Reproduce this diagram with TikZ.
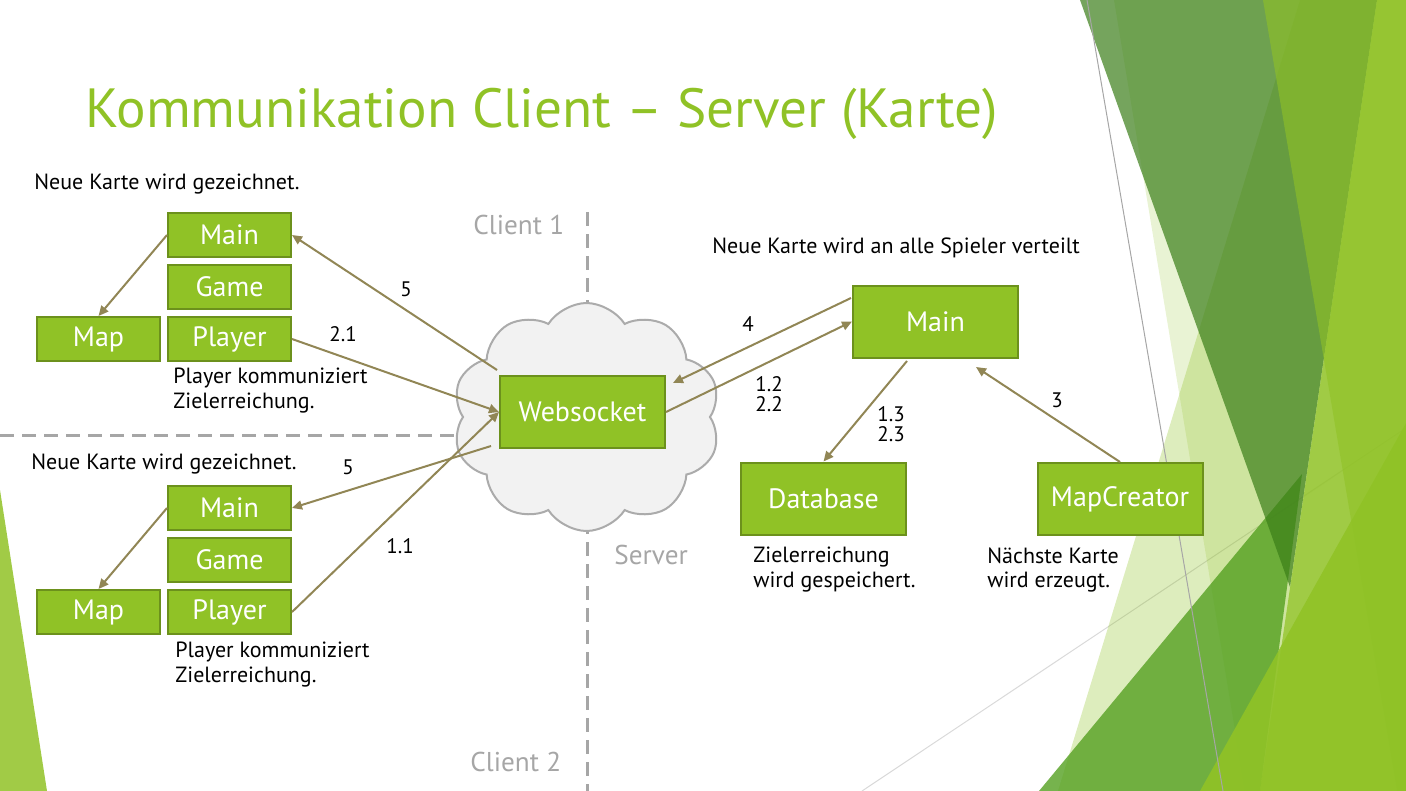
\documentclass[tikz,border=0pt]{standalone}
\usepackage{fontspec}
\setmainfont{PT Sans}
\usetikzlibrary{shapes.symbols,arrows.meta}
\definecolor{accent}{HTML}{90C226}
\definecolor{boxborder}{HTML}{6C911C}
\definecolor{arrowc}{HTML}{918655}
\definecolor{darkleaf}{HTML}{3B7E18}
\definecolor{midleaf}{HTML}{54A021}
\definecolor{sepgray}{HTML}{A6A6A6}
\definecolor{cloudfill}{HTML}{F2F2F2}
\definecolor{cloudline}{HTML}{ABABAB}
\begin{document}
\begin{tikzpicture}[x=0.5pt,y=-0.5pt,
  cbox/.style={draw=boxborder,fill=accent,line width=1pt,text=white,
    font=\fontsize{14}{16}\selectfont,minimum width=61.5pt,minimum height=22pt,inner sep=0pt},
  sbox/.style={cbox,minimum width=82.5pt,minimum height=36pt},
  note/.style={font=\fontsize{11}{12.2}\selectfont,inner sep=0pt,align=left},
  num/.style={font=\fontsize{10.5}{10}\selectfont,inner sep=0pt,align=left},
  zone/.style={font=\fontsize{13.6}{15}\selectfont,text=sepgray,inner sep=0pt},
  sep/.style={draw=sepgray,line width=1.5pt,dash pattern=on 7pt off 4pt},
  flow/.style={draw=arrowc,line width=1pt,-{Triangle[length=5pt,width=4.5pt]}},
  facetline/.style={line width=0.5pt}]
\useasboundingbox (0,0) rectangle (1406,791);

% ---- decorative facets ----
\draw[facetline,draw=black!15] (862,791) -- (1406,428);
\fill[accent,opacity=0.2] (1114,0) -- (1406,0) -- (1406,791) -- (1245,791) -- cycle;
\fill[accent,opacity=0.3] (1300,0) -- (1406,0) -- (1406,791) -- (1058,791) -- cycle;
\fill[midleaf,opacity=0.8] (1039,791) -- (1302,474) -- (1260,791) -- cycle;
\fill[darkleaf,opacity=0.7] (1080,0) -- (1377,0) -- (1290,587) -- cycle;
\fill[accent,opacity=0.75] (1377,0) -- (1406,0) -- (1406,791) -- (1260,791) -- cycle;
\fill[accent,opacity=0.6] (1263,0) -- (1406,0) -- (1406,791) -- (1397,791) -- cycle;
\fill[accent,opacity=0.9] (1200,791) -- (1406,423) -- (1406,791) -- cycle;
\draw[facetline,draw=black!35] (1087,0) -- (1223,791);
\fill[accent,opacity=0.85] (0,490) -- (47,791) -- (0,791) -- cycle;

% ---- title ----
\node[anchor=base west,text=accent,font=\fontsize{27.6}{30}\selectfont,inner sep=0pt]
  (title) at (85,128) {Kommunikation Client – Server (Karte)};

% ---- separators ----
\coordinate (vtop) at (587,212);
\coordinate (vbot) at (587,791);
\coordinate (hleft) at (0,435);
\coordinate (hright) at (587,435);
\draw[sep] (vtop) -- (vbot);
\draw[sep] (hleft) -- (hright);

\node[zone,anchor=west] (c1) at (473,225) {Client 1};
\node[zone,anchor=west] (srv) at (614,555) {Server};
\node[zone,anchor=west] (c2) at (470,762) {Client 2};

% ---- websocket cloud ----
\node[cloud,draw=cloudline,fill=cloudfill,line width=1pt,cloud puffs=10,
  cloud puff arc=115,aspect=1.2,minimum width=134pt,minimum height=114pt]
  (cloud) at (586.5,417) {};
\node[sbox] (ws) at (582.5,412) {Websocket};

% ---- client 1 ----
\node[note,anchor=west] (t1) at (34,184) {Neue Karte wird gezeichnet.};
\node[cbox] (main1) at (229.5,235) {Main};
\node[cbox] (game1) at (229.5,287) {Game};
\node[cbox] (player1) at (229.5,339) {Player};
\node[cbox] (map1) at (98.5,339) {Map};
\node[note,anchor=north west] (p1) at (173,368) {Player kommuniziert\\Zielerreichung.};

% ---- client 2 ----
\node[note,anchor=west] (t2) at (31,464) {Neue Karte wird gezeichnet.};
\node[cbox] (main2) at (229.5,508) {Main};
\node[cbox] (game2) at (229.5,560) {Game};
\node[cbox] (player2) at (229.5,612) {Player};
\node[cbox] (map2) at (98.5,612) {Map};
\node[note,anchor=north west] (p2) at (175,642) {Player kommuniziert\\Zielerreichung.};

% ---- server ----
\node[note,anchor=west] (t3) at (712,248) {Neue Karte wird an alle Spieler verteilt};
\node[sbox] (smain) at (935.5,321.5) {Main};
\node[sbox] (db) at (823.5,498.5) {Database};
\node[sbox] (mc) at (1120,499) {MapCreator};
\node[note,anchor=north west] (t4) at (753,547) {Zielerreichung\\wird gespeichert.};
\node[note,anchor=north west] (t5) at (987,547) {Nächste Karte\\wird erzeugt.};

% ---- connector ends ----
\coordinate (wsA) at (497,370);
\coordinate (wsB) at (491,446);
\coordinate (s4) at (851,298);
\coordinate (ws4) at (673,383);
\coordinate (s13) at (907,361);
\coordinate (s3) at (976,367);

% ---- connectors ----
\draw[flow] (main1.west) -- (map1.north);
\draw[flow] (wsA) -- (main1.east);
\draw[flow] (player1.east) -- (ws.west);
\draw[flow] (wsB) -- (main2.east);
\draw[flow] (player2.east) -- (ws.west);
\draw[flow] (main2.west) -- (map2.north);
\draw[flow] (s4) -- (ws4);
\draw[flow] (ws.east) -- (smain.west);
\draw[flow] (s13) -- (db.north);
\draw[flow] (mc.north) -- (s3);

% ---- step numbers ----
\node[num] (n5a) at (406,289) {5};
\node[num] (n21) at (343,334) {2.1};
\node[num] (n5b) at (348,467) {5};
\node[num] (n11) at (400,546) {1.1};
\node[num] (n4) at (748,324) {4};
\node[num,anchor=west] (n12) at (755,394) {1.2\\2.2};
\node[num,anchor=west] (n13) at (877,424) {1.3\\2.3};
\node[num] (n3) at (1057,400) {3};
\end{tikzpicture}
\end{document}
